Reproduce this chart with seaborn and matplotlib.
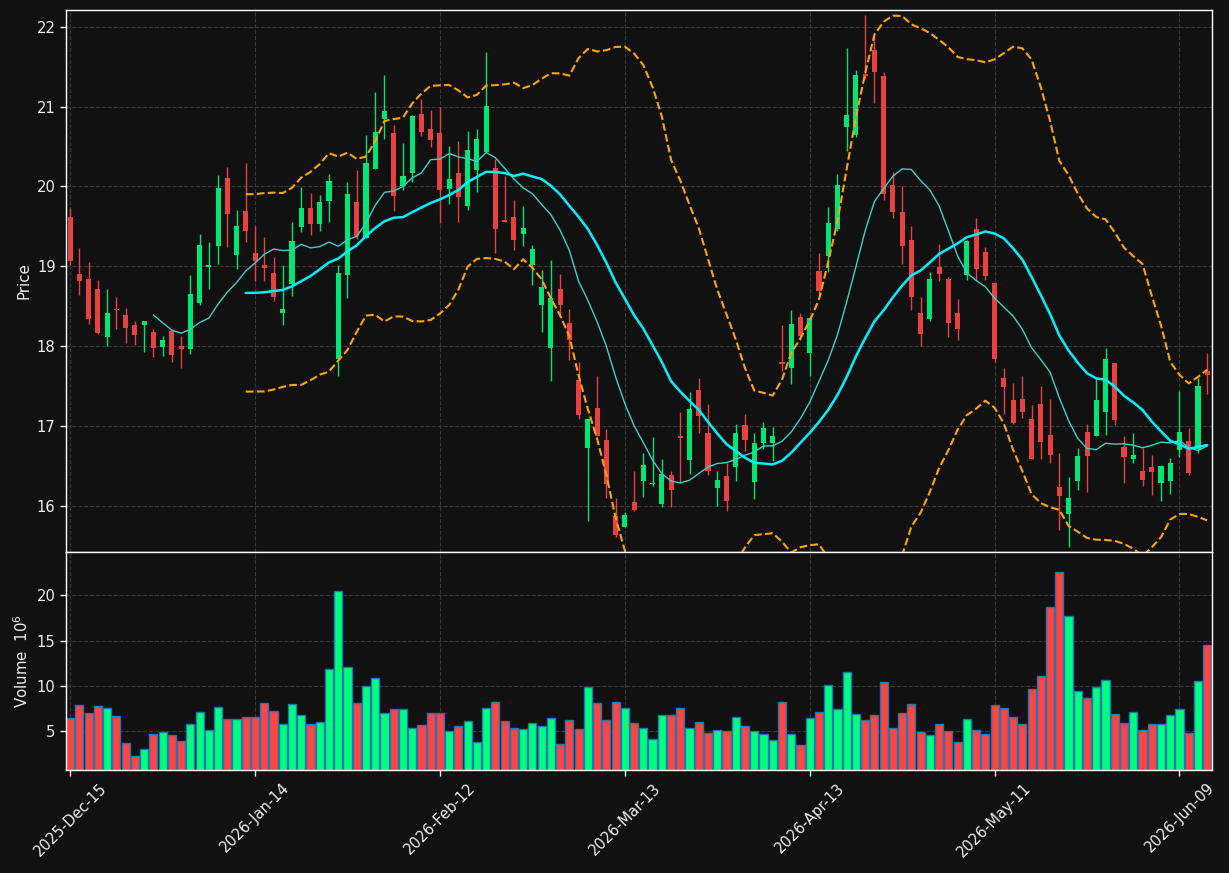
import numpy as np
import pandas as pd
import matplotlib
matplotlib.use("Agg")
import matplotlib.pyplot as plt
import seaborn as sns

# daily OHLC, volume in millions
opens = [19.62, 18.90, 18.84, 18.71, 18.11, 18.46, 18.39, 18.26, 18.26, 18.18,
         17.99, 18.19, 18.00, 17.96, 18.54, 18.99, 19.26, 20.11, 19.14, 19.69,
         19.17, 19.02, 18.91, 18.42, 18.78, 19.49, 19.73, 19.53, 19.82, 17.84,
         18.89, 19.81, 19.35, 20.22, 20.84, 20.67, 20.00, 20.17, 20.91, 20.72,
         20.67, 19.97, 20.17, 19.75, 20.20, 20.43, 20.23, 19.58, 19.62, 19.41,
         19.01, 18.51, 17.97, 18.71, 18.29, 17.57, 16.72, 17.23, 16.82, 15.87,
         15.73, 16.05, 16.31, 16.27, 16.02, 16.38, 16.86, 16.57, 17.45, 16.91,
         16.22, 16.37, 16.49, 17.01, 16.30, 16.78, 16.78, 17.79, 17.73, 18.36,
         17.91, 18.94, 19.13, 19.47, 20.75, 20.65, 21.41, 21.71, 21.38, 20.02,
         19.68, 19.33, 18.42, 18.34, 18.99, 18.84, 18.42, 18.89, 19.47, 19.18,
         18.79, 17.60, 17.33, 17.34, 17.09, 17.27, 16.88, 16.23, 15.90, 16.31,
         16.92, 16.87, 17.18, 17.79, 16.74, 16.58, 16.43, 16.49, 16.28, 16.31,
         16.70, 16.81, 16.71, 17.69]
highs = [19.73, 19.23, 19.05, 18.83, 18.71, 18.61, 18.48, 18.31, 18.32, 18.21,
         18.13, 18.19, 18.13, 18.89, 19.40, 19.30, 20.14, 20.24, 19.71, 20.29,
         19.51, 19.37, 19.11, 19.02, 19.55, 19.99, 19.92, 19.89, 20.16, 19.02,
         20.06, 20.20, 20.65, 21.18, 21.39, 20.77, 20.55, 20.90, 21.09, 20.96,
         21.00, 20.51, 20.57, 20.70, 20.72, 21.69, 20.34, 20.13, 19.83, 19.76,
         19.27, 18.95, 19.08, 18.90, 18.46, 17.80, 17.09, 17.62, 16.96, 16.10,
         15.92, 16.44, 16.66, 16.86, 16.59, 16.44, 17.18, 17.42, 17.60, 17.27,
         16.44, 16.53, 17.02, 17.15, 16.91, 17.05, 16.99, 18.26, 18.45, 18.42,
         18.36, 19.17, 19.74, 20.15, 21.73, 21.46, 22.15, 21.90, 21.43, 20.18,
         20.00, 19.50, 18.61, 18.93, 19.28, 18.87, 18.59, 19.33, 19.60, 19.24,
         18.80, 17.73, 17.54, 17.62, 17.26, 17.50, 17.34, 16.66, 16.36, 16.72,
         17.02, 17.59, 17.97, 17.79, 16.87, 16.91, 16.72, 16.63, 16.51, 16.60,
         17.44, 16.97, 17.60, 17.91]
lows = [19.02, 18.64, 18.28, 18.15, 18.00, 18.21, 18.04, 18.01, 17.92, 17.86,
        17.88, 17.80, 17.72, 17.90, 18.51, 18.72, 19.03, 19.24, 18.97, 19.30,
        18.82, 18.81, 18.57, 18.26, 18.63, 19.43, 19.39, 19.44, 19.56, 17.62,
        18.60, 19.34, 19.35, 20.22, 20.60, 19.69, 19.96, 20.05, 20.63, 20.49,
        19.54, 19.78, 19.56, 19.71, 19.93, 20.43, 19.16, 19.55, 19.20, 19.25,
        18.77, 18.18, 17.56, 18.39, 17.83, 17.09, 15.81, 16.87, 16.10, 15.61,
        15.73, 15.93, 16.11, 16.25, 15.98, 15.98, 16.28, 16.40, 16.91, 16.38,
        16.00, 15.93, 16.31, 16.69, 16.08, 16.71, 16.56, 17.69, 17.52, 18.08,
        17.63, 18.65, 18.93, 19.44, 20.45, 20.62, 21.35, 21.04, 19.83, 19.60,
        19.03, 18.45, 18.00, 18.31, 18.82, 18.11, 18.08, 18.83, 18.83, 18.83,
        17.80, 17.15, 17.02, 17.10, 16.58, 16.59, 16.53, 15.69, 15.48, 16.20,
        16.17, 16.87, 16.89, 17.01, 16.29, 16.54, 16.25, 16.14, 16.06, 16.15,
        16.61, 16.38, 16.66, 17.40]
closes = [19.07, 18.82, 18.34, 18.16, 18.42, 18.45, 18.23, 18.14, 18.31, 17.97,
          18.08, 17.89, 17.96, 18.65, 19.27, 19.00, 19.98, 19.65, 19.50, 19.44,
          19.07, 18.98, 18.62, 18.46, 19.32, 19.73, 19.53, 19.81, 20.07, 18.91,
          19.91, 19.38, 20.29, 20.68, 20.95, 19.88, 20.13, 20.88, 20.68, 20.58,
          19.96, 20.09, 19.87, 20.46, 20.60, 21.01, 19.47, 19.56, 19.33, 19.48,
          19.22, 18.74, 18.60, 18.51, 18.07, 17.14, 17.09, 16.87, 16.27, 15.63,
          15.88, 15.95, 16.51, 16.29, 16.40, 16.20, 16.85, 17.21, 17.12, 16.44,
          16.32, 16.06, 16.91, 16.82, 16.78, 16.97, 16.87, 17.78, 18.28, 18.13,
          18.35, 18.69, 19.54, 20.02, 20.90, 21.39, 21.38, 21.43, 19.91, 19.68,
          19.26, 18.61, 18.15, 18.84, 18.90, 18.29, 18.21, 19.32, 18.96, 18.88,
          17.84, 17.49, 17.04, 17.18, 16.58, 16.80, 16.64, 16.12, 16.10, 16.62,
          16.62, 17.32, 17.84, 17.08, 16.61, 16.63, 16.32, 16.42, 16.50, 16.53,
          16.92, 16.41, 17.50, 17.64]
volumes = [6.44, 7.89, 7.00, 7.78, 7.56, 6.67, 3.67, 2.19, 3.00, 4.67,
           4.85, 4.56, 3.89, 5.78, 7.11, 5.11, 7.67, 6.33, 6.33, 6.56,
           6.56, 8.11, 7.22, 5.78, 8.00, 6.78, 5.78, 6.00, 11.89, 20.44,
           12.11, 8.11, 10.00, 10.89, 7.00, 7.44, 7.44, 5.30, 5.67, 7.00,
           7.00, 5.00, 5.56, 6.11, 3.78, 7.56, 8.22, 6.11, 5.33, 5.22,
           5.89, 5.56, 6.44, 3.56, 6.22, 5.22, 9.89, 8.11, 6.22, 8.22,
           7.56, 5.89, 5.33, 4.11, 6.78, 6.78, 7.56, 5.33, 6.00, 4.78,
           5.11, 5.00, 6.56, 5.56, 5.00, 4.67, 4.00, 8.22, 4.67, 3.44,
           6.44, 7.11, 10.11, 7.44, 11.56, 6.89, 6.22, 6.78, 10.44, 5.33,
           7.00, 8.00, 4.89, 4.56, 5.78, 5.00, 3.78, 6.33, 5.11, 4.67,
           7.89, 7.56, 6.56, 5.78, 9.67, 11.11, 18.67, 22.56, 17.67, 9.44,
           8.67, 9.89, 10.67, 6.89, 5.89, 7.11, 5.11, 5.78, 5.78, 6.78,
           7.44, 4.78, 10.56, 14.56]
tick_labels = ["2025-Dec-15", "2026-Jan-14", "2026-Feb-12", "2026-Mar-13",
               "2026-Apr-13", "2026-May-11", "2026-Jun-09"]
tick_step = 20

df = pd.DataFrame({"open": opens, "high": highs, "low": lows,
                   "close": closes, "vol": volumes})
df["idx"] = np.arange(len(df))
df["dir"] = np.where(df["close"] >= df["open"], "up", "down")
df["ma10"] = df["close"].rolling(10).mean()
df["ma20"] = df["close"].rolling(20).mean()
std20 = df["close"].rolling(20).std(ddof=0)
df["bb_up"] = df["ma20"] + 2 * std20
df["bb_dn"] = df["ma20"] - 2 * std20

bg = "#111111"
candle_cols = {"up": "#00e676", "down": "#e84142"}
vol_cols = {"up": "#00ff7f", "down": "#ff4444"}

sns.set_theme(style="dark", rc={
    "axes.facecolor": bg, "figure.facecolor": bg, "savefig.facecolor": bg,
    "axes.edgecolor": "white", "axes.labelcolor": "#eeeeee",
    "xtick.color": "#eeeeee", "ytick.color": "#eeeeee", "text.color": "#eeeeee",
    "grid.color": "#3a3a3a", "grid.linestyle": "--", "grid.linewidth": 0.8,
    "xtick.bottom": True, "ytick.left": True, "axes.linewidth": 1.0,
})
plt.rcParams.update({"font.size": 10.6, "xtick.labelsize": 10.6, "ytick.labelsize": 10.6,
                     "axes.labelsize": 10.8, "xtick.major.size": 4, "ytick.major.size": 4,
                     "xtick.major.width": 1, "ytick.major.width": 1,
                     "font.family": ["DejaVu Sans"]})

fig = plt.figure(figsize=(12.29, 8.73), dpi=100)
ax = fig.add_axes([0.0537, 0.3677, 0.9325, 0.6208])
axv = fig.add_axes([0.0537, 0.118, 0.9325, 0.2497])

# candles
ccolors = df["dir"].map(candle_cols)
ax.vlines(df["idx"], df["low"], df["high"], colors=ccolors, lw=1, zorder=2)
body_lo = df[["open", "close"]].min(axis=1)
body_h = (df["close"] - df["open"]).abs().clip(lower=0.02)
ax.bar(df["idx"], body_h, bottom=body_lo, width=0.55, color=ccolors, lw=0, zorder=3)

# moving averages + bollinger
sns.lineplot(data=df, x="idx", y="ma10", ax=ax, color="#40d0c8", lw=1.0, zorder=4)
sns.lineplot(data=df, x="idx", y="ma20", ax=ax, color="#00f0ff", lw=1.8, zorder=4)
sns.lineplot(data=df, x="idx", y="bb_up", ax=ax, color="orange", lw=1.5, ls="--", zorder=4)
sns.lineplot(data=df, x="idx", y="bb_dn", ax=ax, color="orange", lw=1.5, ls="--", zorder=4)

# volume
sns.barplot(data=df, x="idx", y="vol", hue="dir", palette=vol_cols, native_scale=True,
            dodge=False, width=0.88, edgecolor="#1f77b4", linewidth=1, saturation=1,
            legend=False, errorbar=None, ax=axv)

xlim = (-0.45, len(df) - 0.48)
ticks = np.arange(0, len(df), tick_step)[:len(tick_labels)]
for a in (ax, axv):
    a.set_xlim(*xlim)
    a.set_xticks(ticks)
    a.grid(True, axis="both", color="#3a3a3a", ls="--", lw=0.8)
    a.set_axisbelow(True)
    for s in a.spines.values():
        s.set_color("white")

ax.set_ylim(min(lows) - 0.06, max(highs) + 0.06)
ax.set_yticks(np.arange(16, 23, 1))
ax.tick_params(labelbottom=False)
ax.set_xlabel("")
ax.set_ylabel("Price")

axv.set_ylim(0.3 * min(volumes), 1.1 * max(volumes))
axv.set_yticks([5, 10, 15, 20])
axv.set_xticklabels(tick_labels, rotation=45, ha="center")
axv.set_xlabel("")
axv.set_ylabel("Volume  $10^{6}$")

fig.savefig("out.png", dpi=100, facecolor=bg)
